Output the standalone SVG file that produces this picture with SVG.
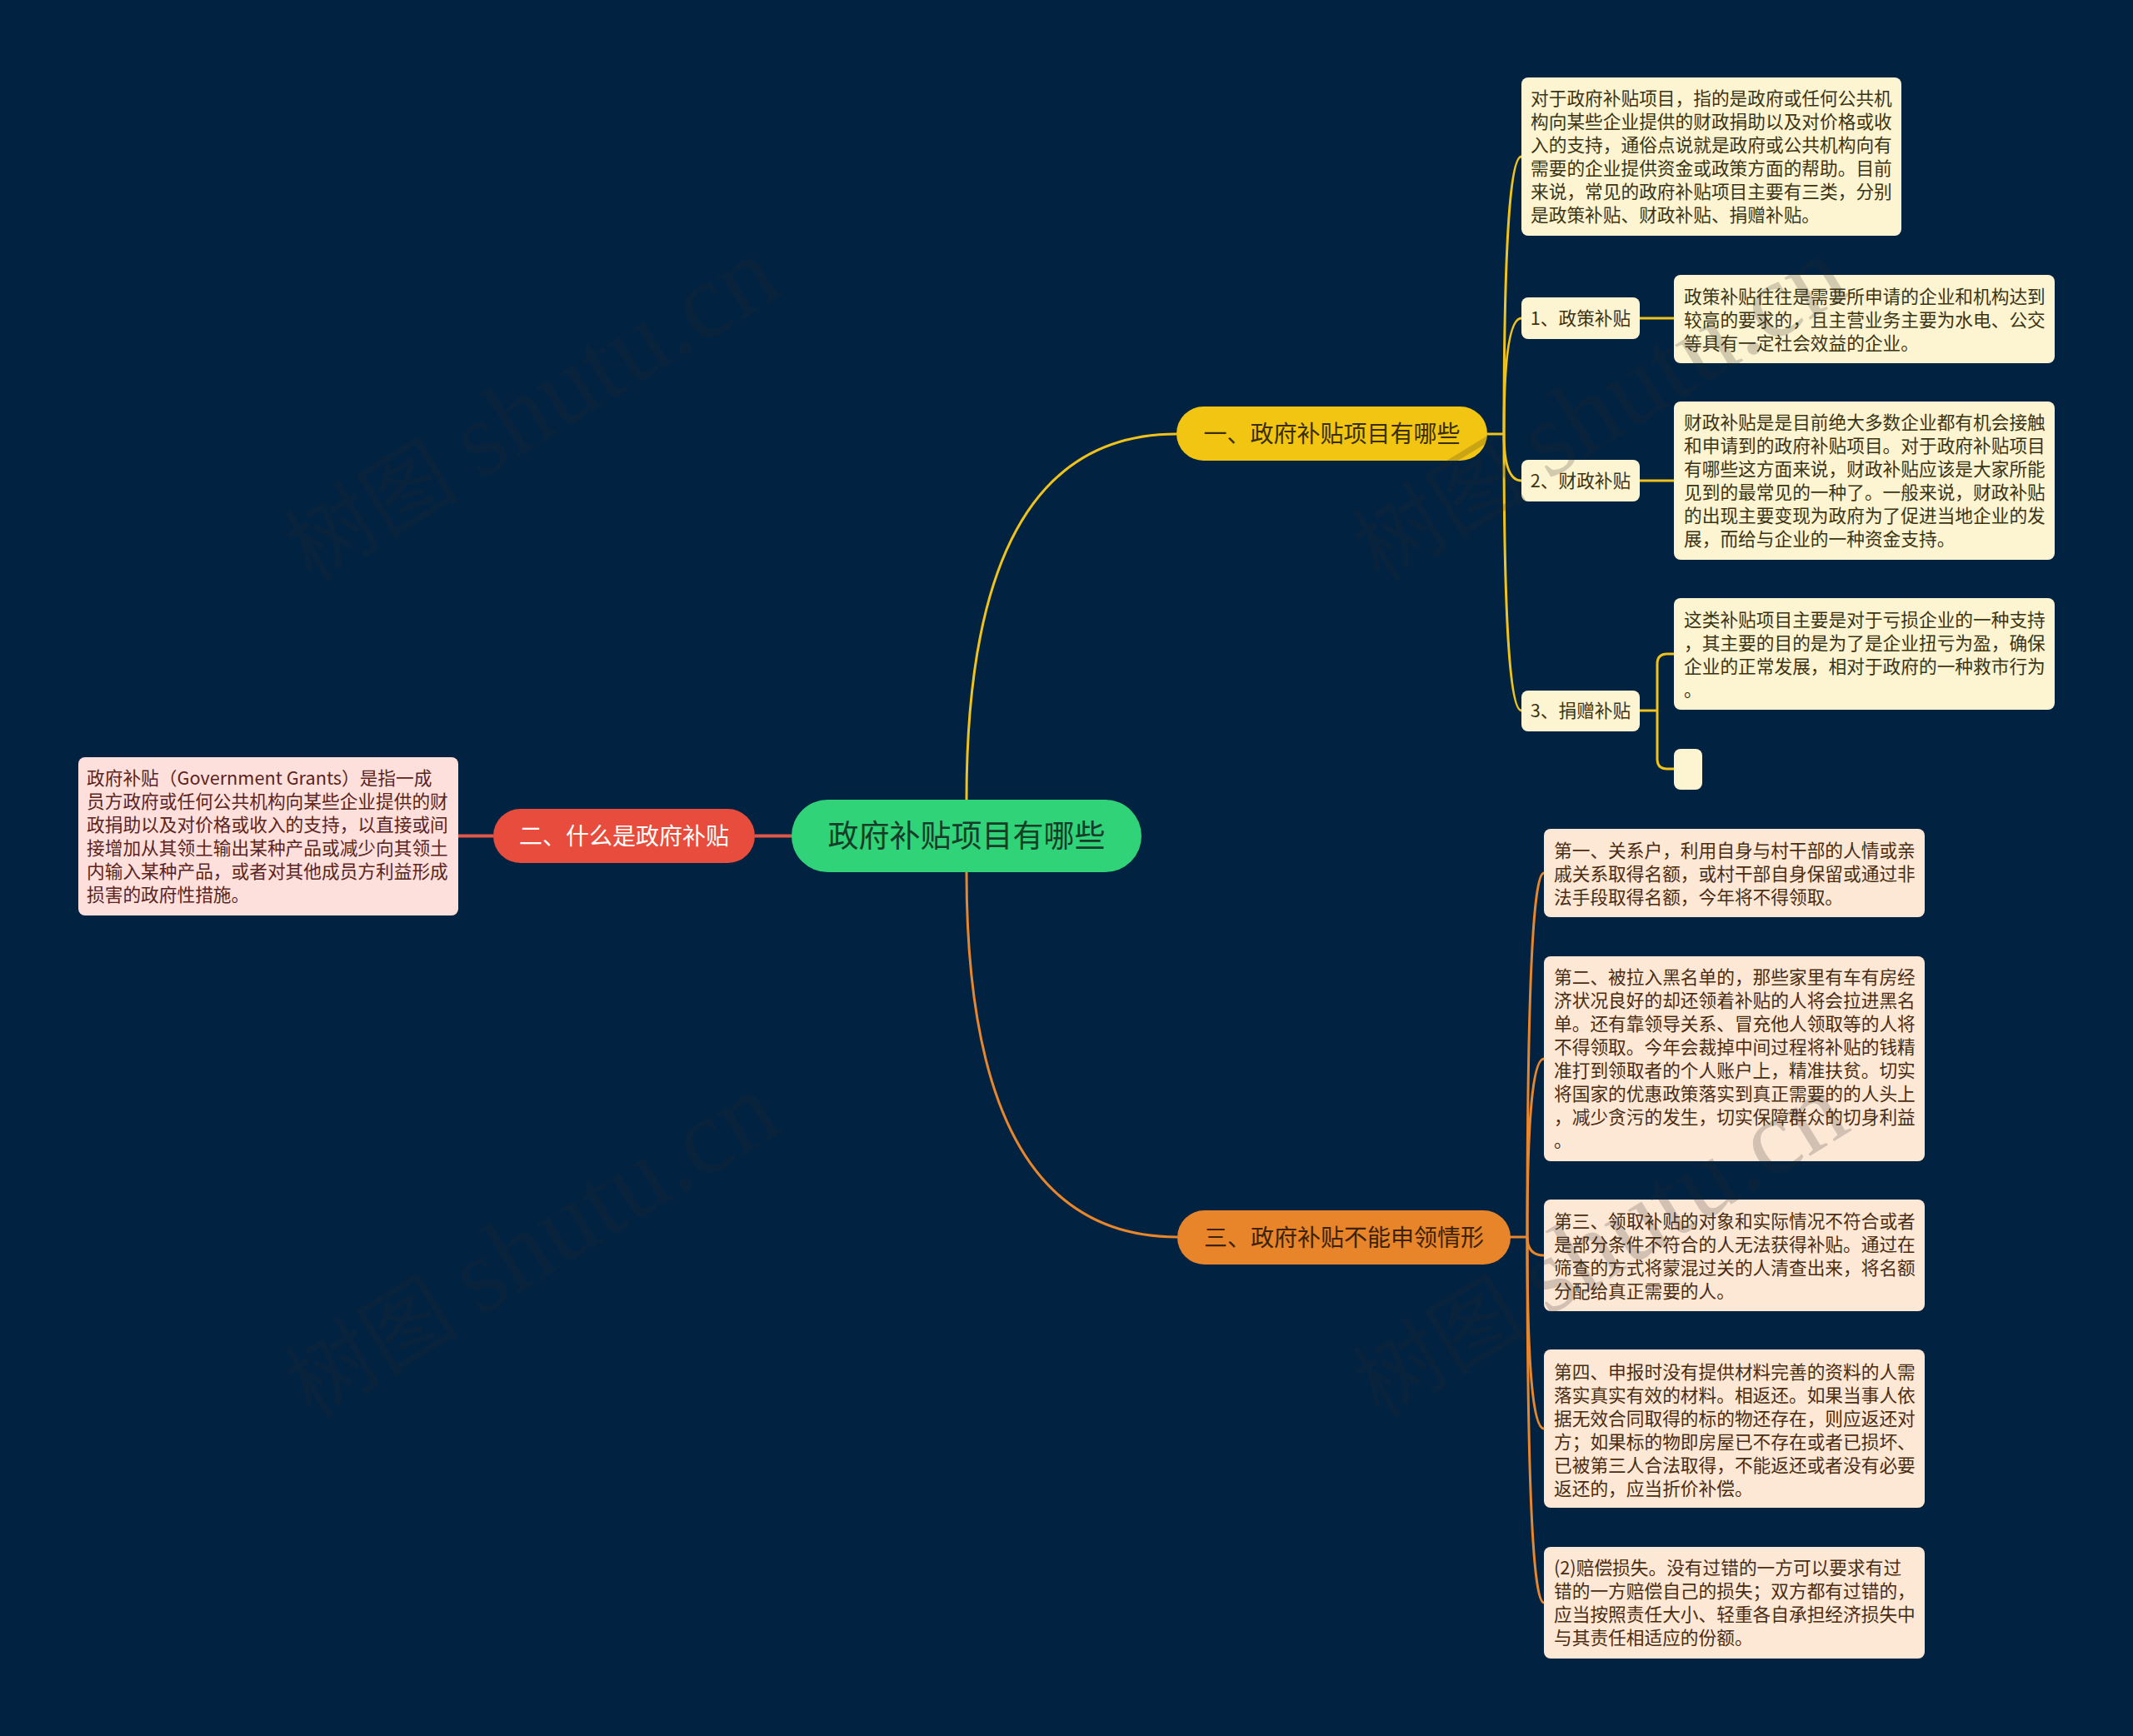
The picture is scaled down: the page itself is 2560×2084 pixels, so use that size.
<svg xmlns="http://www.w3.org/2000/svg" width="2560" height="2084" viewBox="0 0 2560 2084">
<style>
.t{font-family:"Noto Sans CJK SC","Noto Sans",sans-serif;}
.bx{font-size:21.7px;}
.cream{fill:#fdf4d2;}
.pink{fill:#fde0dc;}
.peach{fill:#fde8d5;}
.tc{fill:#3b3412;}
.tp{fill:#5b2420;}
.to{fill:#4a2c12;}
.cy{fill:none;stroke:#f0c31c;stroke-width:3;}
.co{fill:none;stroke:#e8862c;stroke-width:3;}
.cr{fill:none;stroke:#e0574a;stroke-width:4;}
.wm{font-family:"Liberation Serif","Noto Sans CJK SC",serif;fill:#2a2a2a;opacity:0.2;}
</style>
<defs>
<text id="wm" class="wm" transform="rotate(-31.5)"><tspan font-size="105">树图 </tspan><tspan font-size="128">shutu.cn</tspan></text>
</defs>
<rect width="2560" height="2084" fill="#012241"/>

<g id="connectors">
<path class="cy" d="M1160 960 Q1160 521 1412 521"/>
<path class="co" d="M1160 1047 Q1160 1485 1413 1485"/>
<path class="cr" d="M950 1003.5 L906 1003.5"/>
<path class="cr" d="M592 1003.5 L550 1003.5"/>
<path class="cy" d="M1785 521 L1805 521"/>
<path class="cy" d="M1805 521 Q1805 188 1826 188"/>
<path class="cy" d="M1805 521 Q1805 382 1826 382"/>
<path class="cy" d="M1805 521 Q1805 577 1826 577"/>
<path class="cy" d="M1805 521 Q1805 853 1826 853"/>
<path class="cy" d="M1968 382 L2009 382"/>
<path class="cy" d="M1968 577 L2009 577"/>
<path class="cy" d="M1968 853 L1989 853"/>
<path class="cy" d="M1989 853 L1989 797 Q1989 785 2001 785 L2009 785"/>
<path class="cy" d="M1989 853 L1989 911 Q1989 923 2001 923 L2009 923"/>
<path class="co" d="M1812 1485 L1833 1485"/>
<path class="co" d="M1833 1485 Q1833 1048 1853 1048"/>
<path class="co" d="M1833 1485 Q1833 1271 1853 1271"/>
<path class="co" d="M1833 1485 Q1833 1507 1853 1507"/>
<path class="co" d="M1833 1485 Q1833 1715 1853 1715"/>
<path class="co" d="M1833 1485 Q1833 1924 1853 1924"/>
</g>

<g id="root">
<rect x="950" y="960" width="420" height="87" rx="43.5" fill="#30d377"/>
<text class="t" x="1160" y="1017" font-size="37" text-anchor="middle" fill="#163d27">政府补贴项目有哪些</text>
</g>

<g id="n-red">
<rect x="592" y="971" width="314" height="65" rx="32.5" fill="#e74c3c"/>
<text class="t" x="749" y="1014" font-size="28" text-anchor="middle" fill="#ffffff">二、什么是政府补贴</text>
</g>

<g id="n-red-text">
<rect class="pink" x="94" y="909" width="456" height="190" rx="8"/>
<text class="t bx tp" x="104"><tspan x="104" y="942">政府补贴（Government Grants）是指一成</tspan><tspan x="104" y="970">员方政府或任何公共机构向某些企业提供的财</tspan><tspan x="104" y="998">政捐助以及对价格或收入的支持，以直接或间</tspan><tspan x="104" y="1026">接增加从其领土输出某种产品或减少向其领土</tspan><tspan x="104" y="1054">内输入某种产品，或者对其他成员方利益形成</tspan><tspan x="104" y="1082">损害的政府性措施。</tspan></text>
</g>

<g id="n-yellow">
<rect x="1412" y="488" width="373" height="65" rx="32.5" fill="#f2c512"/>
<text class="t" x="1598.5" y="531" font-size="28" text-anchor="middle" fill="#3a2e06">一、政府补贴项目有哪些</text>
</g>

<g id="n-y-a">
<rect class="cream" x="1826" y="93" width="456" height="190" rx="8"/>
<text class="t bx tc"><tspan x="1837" y="126">对于政府补贴项目，指的是政府或任何公共机</tspan><tspan x="1837" y="154">构向某些企业提供的财政捐助以及对价格或收</tspan><tspan x="1837" y="182">入的支持，通俗点说就是政府或公共机构向有</tspan><tspan x="1837" y="210">需要的企业提供资金或政策方面的帮助。目前</tspan><tspan x="1837" y="238">来说，常见的政府补贴项目主要有三类，分别</tspan><tspan x="1837" y="266">是政策补贴、财政补贴、捐赠补贴。</tspan></text>
</g>

<g id="n-y-1">
<rect class="cream" x="1826" y="357" width="142" height="50" rx="8"/>
<text class="t bx tc" x="1897" y="390" text-anchor="middle">1、政策补贴</text>
</g>
<g id="n-y-1a">
<rect class="cream" x="2009" y="330" width="457" height="106" rx="8"/>
<text class="t bx tc"><tspan x="2021" y="364">政策补贴往往是需要所申请的企业和机构达到</tspan><tspan x="2021" y="392">较高的要求的，且主营业务主要为水电、公交</tspan><tspan x="2021" y="420">等具有一定社会效益的企业。</tspan></text>
</g>

<g id="n-y-2">
<rect class="cream" x="1826" y="552" width="142" height="50" rx="8"/>
<text class="t bx tc" x="1897" y="585" text-anchor="middle">2、财政补贴</text>
</g>
<g id="n-y-2a">
<rect class="cream" x="2009" y="482" width="457" height="190" rx="8"/>
<text class="t bx tc"><tspan x="2021" y="515">财政补贴是是目前绝大多数企业都有机会接触</tspan><tspan x="2021" y="543">和申请到的政府补贴项目。对于政府补贴项目</tspan><tspan x="2021" y="571">有哪些这方面来说，财政补贴应该是大家所能</tspan><tspan x="2021" y="599">见到的最常见的一种了。一般来说，财政补贴</tspan><tspan x="2021" y="627">的出现主要变现为政府为了促进当地企业的发</tspan><tspan x="2021" y="655">展，而给与企业的一种资金支持。</tspan></text>
</g>

<g id="n-y-3">
<rect class="cream" x="1826" y="829" width="142" height="49" rx="8"/>
<text class="t bx tc" x="1897" y="861" text-anchor="middle">3、捐赠补贴</text>
</g>
<g id="n-y-3a">
<rect class="cream" x="2009" y="718" width="457" height="134" rx="8"/>
<text class="t bx tc"><tspan x="2021" y="752">这类补贴项目主要是对于亏损企业的一种支持</tspan><tspan x="2021" y="780">，其主要的目的是为了是企业扭亏为盈，确保</tspan><tspan x="2021" y="808">企业的正常发展，相对于政府的一种救市行为</tspan><tspan x="2021" y="836">。</tspan></text>
</g>
<g id="n-y-3b">
<rect class="cream" x="2009" y="899" width="34" height="49" rx="8"/>
</g>

<g id="n-orange">
<rect x="1413" y="1453" width="400" height="65" rx="32.5" fill="#e8842a"/>
<text class="t" x="1613" y="1496" font-size="28" text-anchor="middle" fill="#3d2206">三、政府补贴不能申领情形</text>
</g>

<g id="n-o-1">
<rect class="peach" x="1853" y="995" width="457" height="106" rx="8"/>
<text class="t bx to"><tspan x="1865" y="1029">第一、关系户，利用自身与村干部的人情或亲</tspan><tspan x="1865" y="1057">戚关系取得名额，或村干部自身保留或通过非</tspan><tspan x="1865" y="1085">法手段取得名额，今年将不得领取。</tspan></text>
</g>
<g id="n-o-2">
<rect class="peach" x="1853" y="1148" width="457" height="246" rx="8"/>
<text class="t bx to"><tspan x="1865" y="1181">第二、被拉入黑名单的，那些家里有车有房经</tspan><tspan x="1865" y="1209">济状况良好的却还领着补贴的人将会拉进黑名</tspan><tspan x="1865" y="1237">单。还有靠领导关系、冒充他人领取等的人将</tspan><tspan x="1865" y="1265">不得领取。今年会裁掉中间过程将补贴的钱精</tspan><tspan x="1865" y="1293">准打到领取者的个人账户上，精准扶贫。切实</tspan><tspan x="1865" y="1321">将国家的优惠政策落实到真正需要的的人头上</tspan><tspan x="1865" y="1349">，减少贪污的发生，切实保障群众的切身利益</tspan><tspan x="1865" y="1377">。</tspan></text>
</g>
<g id="n-o-3">
<rect class="peach" x="1853" y="1440" width="457" height="134" rx="8"/>
<text class="t bx to"><tspan x="1865" y="1474">第三、领取补贴的对象和实际情况不符合或者</tspan><tspan x="1865" y="1502">是部分条件不符合的人无法获得补贴。通过在</tspan><tspan x="1865" y="1530">筛查的方式将蒙混过关的人清查出来，将名额</tspan><tspan x="1865" y="1558">分配给真正需要的人。</tspan></text>
</g>
<g id="n-o-4">
<rect class="peach" x="1853" y="1620" width="457" height="190" rx="8"/>
<text class="t bx to"><tspan x="1865" y="1655">第四、申报时没有提供材料完善的资料的人需</tspan><tspan x="1865" y="1683">落实真实有效的材料。相返还。如果当事人依</tspan><tspan x="1865" y="1711">据无效合同取得的标的物还存在，则应返还对</tspan><tspan x="1865" y="1739">方；如果标的物即房屋已不存在或者已损坏、</tspan><tspan x="1865" y="1767">已被第三人合法取得，不能返还或者没有必要</tspan><tspan x="1865" y="1795">返还的，应当折价补偿。</tspan></text>
</g>
<g id="n-o-5">
<rect class="peach" x="1853" y="1857" width="457" height="134" rx="8"/>
<text class="t bx to"><tspan x="1865" y="1890">(2)赔偿损失。没有过错的一方可以要求有过</tspan><tspan x="1865" y="1918">错的一方赔偿自己的损失；双方都有过错的，</tspan><tspan x="1865" y="1946">应当按照责任大小、轻重各自承担经济损失中</tspan><tspan x="1865" y="1974">与其责任相适应的份额。</tspan></text>
</g>

<g id="watermarks">
<use href="#wm" transform="translate(374 700)"/>
<use href="#wm" transform="translate(1656 700)"/>
<use href="#wm" transform="translate(374 1704)"/>
<use href="#wm" transform="translate(1656 1704)"/>
</g>
</svg>
